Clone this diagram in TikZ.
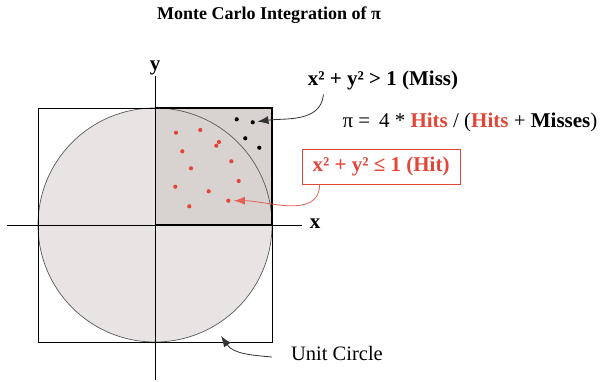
\documentclass[tikz,border=0pt]{standalone}
\usepackage{fontspec}
\setmainfont{Liberation Serif}
\usetikzlibrary{arrows.meta}
\definecolor{hitred}{RGB}{226,70,56}
\definecolor{discfill}{RGB}{232,228,228}
\definecolor{quadfill}{RGB}{216,211,209}
\tikzset{
  hitdot/.style={circle,fill=hitred,inner sep=0pt,minimum size=4.2pt},
  missdot/.style={circle,fill=black,inner sep=0pt,minimum size=4.2pt},
  bigtext/.style={inner sep=0pt,font=\fontsize{21}{24}\selectfont},
  boldtext/.style={inner sep=0pt,font=\bfseries\fontsize{21}{24}\selectfont},
  pointer/.style={->,black!80,line width=0.8pt},
}

\begin{document}
\begin{tikzpicture}[x=1pt,y=1pt,line width=0.8pt,>={Latex[length=11pt,width=8pt]}]
  \useasboundingbox (0,0) rectangle (600,381);
  \fill[discfill] (155,156) circle (117);
  \fill[quadfill] (155,156) rectangle (272,273);
  \draw[black!65,line width=0.7pt] (155,156) circle (117);
  \draw (38,39) rectangle (272,273);
  \draw (7,156) -- (302,156);
  \draw (155,1) -- (155,305);
  \draw[line width=2.5pt] (155,273) -- (272,273) -- (272,156);
  \draw[line width=1.4pt] (155,156) -- (272,156);

  \foreach \px/\py [count=\i] in {236.7/261.7, 252.7/258.7, 245.3/242.7, 259.3/233.3}
    \node[missdot] (b\i) at (\px,\py) {};
  \foreach \px/\py [count=\i] in {176/248.3, 200.3/251, 219/239, 216.3/235.3,
      182.3/229.7, 231.3/219.7, 191/212.7, 238.7/200, 175.3/194.3,
      208.7/189.7, 228.3/180.3, 189.3/174.7}
    \node[hitdot] (r\i) at (\px,\py) {};

  \node[inner sep=0pt,font=\bfseries\fontsize{18}{20}\selectfont] (title) at (269,366) {Monte Carlo Integration of π};
  \node[boldtext] (ylab) at (155,313) {y};
  \node[boldtext] (xlab) at (315,157) {x};
  \node[boldtext] (miss) at (383,301) {x² + y² > 1 (Miss)};
  \node[bigtext] (formula) at (470,259) {π =\, 4 * \textbf{\color{hitred}Hits} / (\textbf{\color{hitred}Hits} + \textbf{Misses})};
  \node[boldtext,draw=hitred,text=hitred,line width=0.8pt,minimum width=158pt,minimum height=35pt] (hit) at (381,214.5) {x² + y² ≤ 1 (Hit)};
  \node[inner sep=0pt,font=\fontsize{20.5}{24}\selectfont] (unit) at (337,28) {Unit Circle};
  \coordinate (rim) at (221,45);

  \draw[pointer,shorten >=2.3pt] ([xshift=16pt,yshift=-4.5pt]miss.south west) to[out=-95,in=8] (b2);
  \draw[pointer,hitred!85,shorten >=3pt] ([xshift=18pt]hit.south west) to[out=-90,in=0] (r11);
  \draw[pointer] ([xshift=-19pt,yshift=-4pt]unit.west) to[out=175,in=-55] (rim);
\end{tikzpicture}
\end{document}
